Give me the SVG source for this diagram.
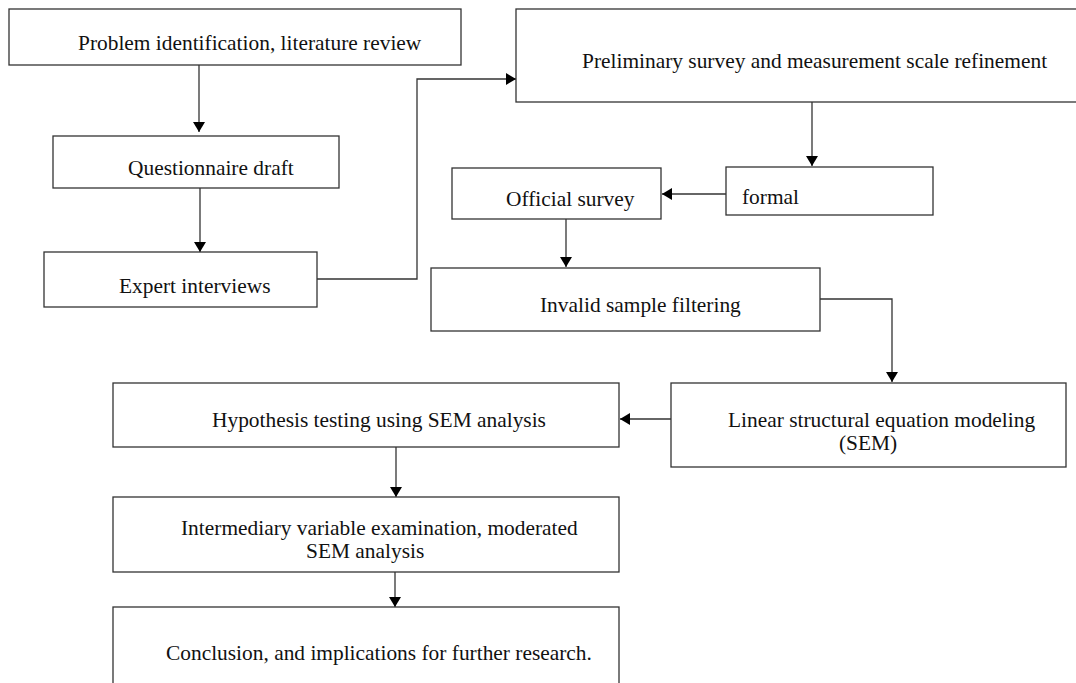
<svg xmlns="http://www.w3.org/2000/svg" width="1076" height="683" viewBox="0 0 1076 683">
<style>
.box{fill:#fff;stroke:#333;stroke-width:1.3}
.lbl{font-family:"Liberation Serif","Times New Roman",serif;font-size:21.4px;fill:#111}
.con{fill:none;stroke:#333;stroke-width:1.3;marker-end:url(#ah)}
</style>
<defs>
<marker id="ah" viewBox="0 0 10 12" refX="10" refY="6" markerWidth="10" markerHeight="12" markerUnits="userSpaceOnUse" orient="auto">
<path d="M0,0 L10,6 L0,12 z" fill="#000"/>
</marker>
</defs>
<rect width="1076" height="683" fill="#fff"/>
<g id="connectors">
<path class="con" d="M199,65 V132"/>
<path class="con" d="M200,188 V252"/>
<path class="con" d="M317,279 H417 V79 H516"/>
<path class="con" d="M812,102 V166"/>
<path class="con" d="M726,194 H662"/>
<path class="con" d="M566,219 V267"/>
<path class="con" d="M820,299 H892 V382"/>
<path class="con" d="M671,419 H620"/>
<path class="con" d="M396,447 V497"/>
<path class="con" d="M395,572 V607"/>
</g>
<g id="n1"><rect class="box" x="9" y="9" width="452" height="56"/><text class="lbl" x="78" y="50">Problem identification, literature review</text></g>
<g id="n2"><rect class="box" x="53" y="136" width="286" height="52"/><text class="lbl" x="128" y="175">Questionnaire draft</text></g>
<g id="n3"><rect class="box" x="44" y="252" width="273" height="55"/><text class="lbl" x="119" y="293">Expert interviews</text></g>
<g id="n4"><rect class="box" x="516" y="9" width="580" height="93"/><text class="lbl" x="582" y="68">Preliminary survey and measurement scale refinement</text></g>
<g id="n5"><rect class="box" x="726" y="167" width="207" height="48"/><text class="lbl" x="742" y="204">formal</text></g>
<g id="n6"><rect class="box" x="452" y="168" width="209" height="51"/><text class="lbl" x="506" y="206">Official survey</text></g>
<g id="n7"><rect class="box" x="431" y="268" width="389" height="63"/><text class="lbl" x="540" y="312">Invalid sample filtering</text></g>
<g id="n8"><rect class="box" x="671" y="383" width="395" height="84"/><text class="lbl" x="728" y="427">Linear structural equation modeling</text><text class="lbl" x="839" y="450">(SEM)</text></g>
<g id="n9"><rect class="box" x="113" y="383" width="506" height="64"/><text class="lbl" x="212" y="427">Hypothesis testing using SEM analysis</text></g>
<g id="n10"><rect class="box" x="113" y="497" width="506" height="75"/><text class="lbl" x="181" y="535">Intermediary variable examination, moderated</text><text class="lbl" x="306" y="558">SEM analysis</text></g>
<g id="n11"><rect class="box" x="113" y="607" width="506" height="100"/><text class="lbl" x="166" y="660">Conclusion, and implications for further research.</text></g>
</svg>
